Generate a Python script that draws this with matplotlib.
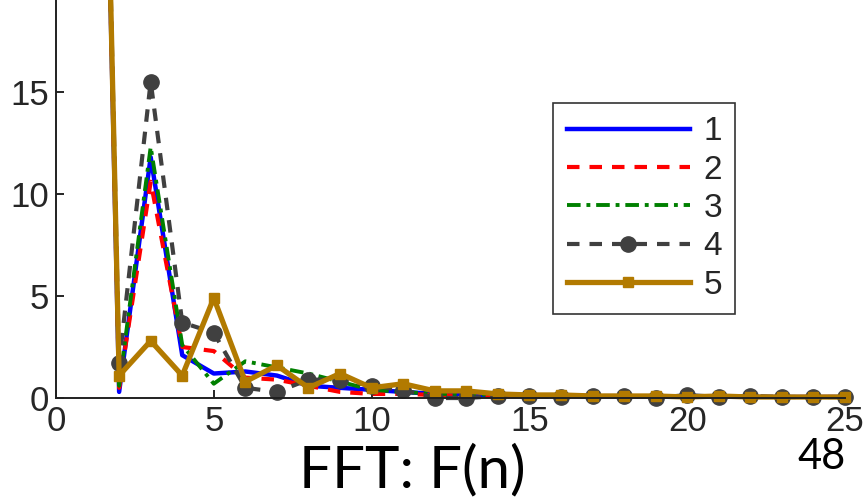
import matplotlib
matplotlib.use("Agg")
import matplotlib.pyplot as plt
import numpy as np

# Harmonic index and FFT magnitudes for five signals
n = list(range(1, 26))
f1 = [70, 0.3, 11.8, 2.1, 1.2, 1.3, 1.1, 0.6, 0.5, 0.4, 0.3, 0.2, 0.2, 0.1, 0.1,
      0.1, 0.1, 0.05, 0.05, 0.05, 0.05, 0.05, 0.05, 0.05, 0.05]
f2 = [70, 0.5, 10.6, 2.5, 2.3, 1.0, 0.9, 0.6, 0.3, 0.2, 0.2, 0.15, 0.1, 0.1, 0.1,
      0.1, 0.1, 0.05, 0.05, 0.05, 0.05, 0.05, 0.05, 0.05, 0.05]
f3 = [70, 0.6, 12.3, 2.6, 0.7, 1.8, 1.5, 1.2, 0.8, 0.4, 0.3, 0.2, 0.2, 0.15, 0.1,
      0.1, 0.1, 0.05, 0.05, 0.05, 0.05, 0.05, 0.05, 0.05, 0.05]
f4 = [70, 1.7, 15.5, 3.7, 3.2, 0.5, 0.3, 0.9, 0.9, 0.6, 0.4, 0.0, 0.0, 0.1, 0.1,
      0.05, 0.1, 0.1, 0.0, 0.15, 0.05, 0.1, 0.05, 0.05, 0.05]
f5 = [70, 1.1, 2.8, 1.1, 4.9, 0.8, 1.6, 0.5, 1.2, 0.5, 0.7, 0.35, 0.35, 0.2, 0.15,
      0.15, 0.1, 0.1, 0.1, 0.05, 0.1, 0.05, 0.05, 0.05, 0.05]
labels = ["1", "2", "3", "4", "5"]
xticks = [0, 5, 10, 15, 20, 25]
yticks = [0, 5, 10, 15]

fig = plt.figure(figsize=(8.67, 5.03), dpi=100)
ax = fig.add_axes([0.0646, 0.2087, 0.910, 0.7913])

ax.plot(n, f1, color="#0000ff", lw=3.2, ls="-", label=labels[0])
ax.plot(n, f2, color="#ff0000", lw=3.0, ls=(0, (3, 2.4)), label=labels[1])
ax.plot(n, f3, color="#008000", lw=2.8, ls=(0, (3.5, 1.5, 1, 1.5)), label=labels[2])
ax.plot(n, f4, color="#404040", lw=3.0, ls=(0, (3, 2.4)), marker="o",
        markersize=11, label=labels[3], clip_on=False)
ax.plot(n, f5, color="#b27a00", lw=3.8, ls="-", marker="s", markersize=7,
        label=labels[4], clip_on=False)

ax.set_xlim(0, 25)
ax.set_ylim(0, 19.5)
ax.set_xticks(xticks)
ax.set_yticks(yticks)
ax.tick_params(direction="in", length=6, width=1.2, labelsize=25,
               labelcolor="#262626", pad=5)
for lab in ax.get_xticklabels() + ax.get_yticklabels():
    lab.set_family("Liberation Sans")
ax.spines["top"].set_visible(False)
ax.spines["right"].set_visible(False)
for side in ("left", "bottom"):
    ax.spines[side].set_linewidth(1.4)
    ax.spines[side].set_color("#202020")

leg = fig.legend(loc="upper right", bbox_to_anchor=(0.848, 0.795),
                 borderaxespad=0.0,
                 prop={"family": "Liberation Sans", "size": 24},
                 frameon=True, fancybox=False, handlelength=3.7,
                 handletextpad=0.4, labelspacing=0.22, borderpad=0.4)
leg.get_frame().set_edgecolor("black")
leg.get_frame().set_linewidth(1.2)
for t in leg.get_texts():
    t.set_color("#262626")

fig.text(0.476, 0.03, "FFT: F(n)", family="Lato", fontsize=42,
         ha="center", va="baseline", color="black")
fig.text(0.948, 0.068, "48", family="Lato", fontsize=30,
         ha="center", va="baseline", color="black")

fig.savefig("out.png", dpi=100)
